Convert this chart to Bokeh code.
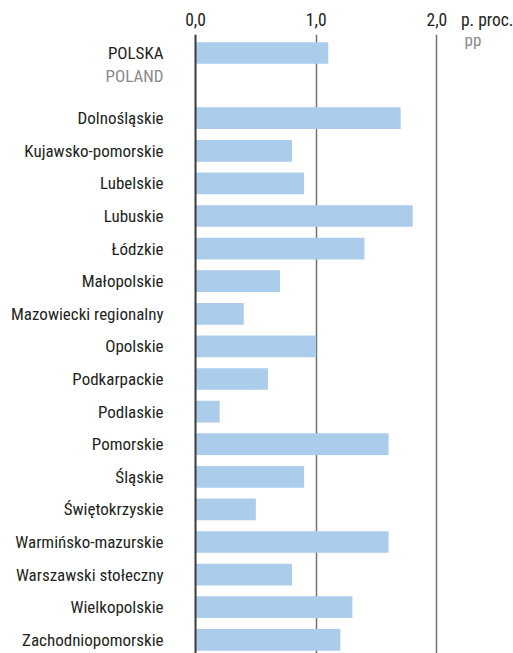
from bokeh.plotting import figure
from bokeh.models import Range1d, FixedTicker, Span, LinearAxis
from bokeh.core.properties import value
from bokeh.embed import file_html
from bokeh.resources import INLINE

# ---- data ----
national_label = "POLSKA"
national_label_en = "POLAND"
national_value = 1.1

regions = ["Dolnośląskie", "Kujawsko-pomorskie", "Lubelskie", "Lubuskie", "Łódzkie",
           "Małopolskie", "Mazowiecki regionalny", "Opolskie", "Podkarpackie", "Podlaskie",
           "Pomorskie", "Śląskie", "Świętokrzyskie", "Warmińsko-mazurskie",
           "Warszawski stołeczny", "Wielkopolskie", "Zachodniopomorskie"]
region_values = [1.7, 0.8, 0.9, 1.8, 1.4, 0.7, 0.4, 1.0, 0.6, 0.2,
                 1.6, 0.9, 0.5, 1.6, 0.8, 1.3, 1.2]

tick_values = [0, 1, 2]
tick_labels = ["0,0", "1,0", "2,0"]
unit_pl = "p. proc."
unit_en = "pp"

# ---- layout / style ----
UNIT_POS = 2.42          # horizontal anchor of the unit caption (axis units)
FONT = "Roboto Condensed"
BAR = "#abcdeb"
DARK = "#231f20"
GREY = "#8a8a8a"

labels = [national_label] + regions
vals = [national_value] + region_values
ys = [0] + [i + 2 for i in range(len(regions))]

p = figure(width=513, height=653, output_backend="svg", toolbar_location=None,
           x_range=Range1d(-1.616, 2.635), y_range=Range1d(18.42, -0.567),
           x_axis_location=None, y_axis_location=None,
           min_border_left=0, min_border_right=0, min_border_top=34, min_border_bottom=0)
p.outline_line_color = None
p.background_fill_color = "white"
p.ygrid.visible = False
p.xgrid.ticker = FixedTicker(ticks=[1, 2])
p.xgrid.grid_line_color = "#707070"
p.xgrid.grid_line_width = 1.5

ax_ticks = tick_values + [UNIT_POS]
overrides = {t: l for t, l in zip(tick_values, tick_labels)}
overrides[UNIT_POS] = unit_pl
xa = LinearAxis(ticker=FixedTicker(ticks=ax_ticks), major_label_overrides=overrides)
xa.axis_line_color = None
xa.major_tick_line_color = None
xa.minor_tick_line_color = None
xa.major_tick_out = 0
xa.major_tick_in = 0
xa.major_label_standoff = 5
xa.major_label_text_font = FONT
xa.major_label_text_font_size = "17.5px"
xa.major_label_text_color = DARK
p.add_layout(xa, "above")

p.hbar(y=ys, right=vals, left=0, height=0.665, fill_color=BAR, line_color=None)
p.add_layout(Span(location=0, dimension="height", line_color="#3a3a3a", line_width=2))

p.text(x=0, y=ys, text=labels, x_offset=-32, y_offset=0, text_align="right",
       text_baseline="middle", text_font=value(FONT), text_font_size="17px",
       text_color=DARK)
p.text(x=[0], y=[0], text=[national_label_en], x_offset=-32, y_offset=23,
       text_align="right", text_baseline="middle", text_font=value(FONT),
       text_font_size="17px", text_color=GREY)
p.text(x=[UNIT_POS], y=[0], text=[unit_en], x_offset=-23, y_offset=-13,
       text_align="left", text_baseline="alphabetic", text_font=value(FONT),
       text_font_size="17px", text_color=GREY)

open("out.html", "w").write(file_html(p, INLINE))
